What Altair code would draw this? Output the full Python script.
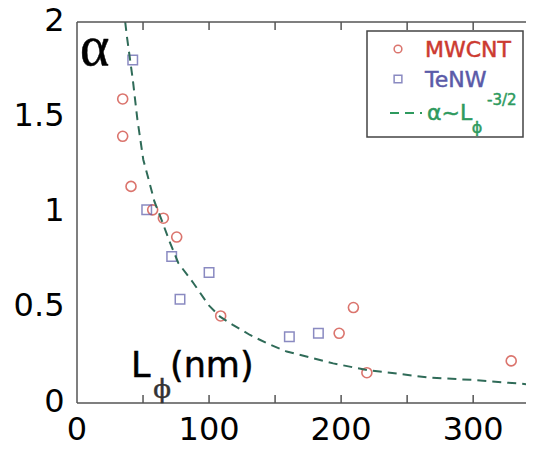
import altair as alt
import pandas as pd

# --- data ---
mw_x = [34.6, 34.6, 40.9, 57.3, 65.4, 75.5, 108.8, 198.5, 209.3, 219.5, 328.8]
mw_y = [1.596, 1.40, 1.137, 1.014, 0.97, 0.871, 0.457, 0.366, 0.501, 0.159, 0.221]

te_x = [42.2, 52.8, 71.7, 78.0, 100.0, 160.8, 182.8]
te_y = [1.80, 1.014, 0.769, 0.545, 0.685, 0.348, 0.366]

fit_x = [36.5, 37.6, 42.2, 45.7, 50.2, 54.0, 58.6, 64.1, 70.5, 76.7, 88.1, 99.5, 108.3,
         118.0, 131.0, 143.7, 158.8, 179.0, 194.0, 219.5, 237.0, 267.0, 300.0, 340.0]
fit_y = [2.0, 1.934, 1.70, 1.49, 1.277, 1.18, 1.058, 0.96, 0.84, 0.735, 0.63, 0.515, 0.453,
         0.41, 0.357, 0.314, 0.27, 0.235, 0.208, 0.173, 0.159, 0.133, 0.121, 0.099]

x_labels = [0, 100, 200, 300]
x_ticks = [50, 100, 150, 200, 250, 300]
y_labels = [0, 0.5, 1, 1.5, 2]

W, H = 449, 381
AXC = "#555555"
RED = "#cc3a30"
BLUE = "#5a5aa8"
GREEN = "#2e9a5e"
CURVE = "#2f6b58"
LABEL_FONT = "DejaVu Sans"

mw = pd.DataFrame({"L": mw_x, "a": mw_y})
te = pd.DataFrame({"L": te_x, "a": te_y})
fit = pd.DataFrame({"L": fit_x, "a": fit_y})
ticks = pd.DataFrame({"L": x_ticks})
xlab = pd.DataFrame({"L": x_labels, "t": [str(v) for v in x_labels]})
one = pd.DataFrame({"k": [0]})

xscale = alt.Scale(domain=[0, 340], nice=False, zero=False)
yscale = alt.Scale(domain=[0, 2], nice=False)

xenc = alt.X("L:Q", scale=xscale, axis=alt.Axis(
    orient="bottom", values=x_labels, ticks=False, grid=False, domain=False,
    labelFontSize=32, labelFont=LABEL_FONT, labelColor="black",
    labelPadding=14, labelFlush=False, title=None))
xnone = alt.X("L:Q", scale=xscale, axis=None)
yenc = alt.Y("a:Q", scale=yscale, axis=alt.Axis(
    orient="left", values=y_labels, format=".1~f", ticks=False, grid=False,
    domain=False, labelPadding=13, labelFontSize=32, labelFont=LABEL_FONT,
    labelColor="black", labelOffset=-2, title=None))

# frame lines (left, bottom, top) and inward ticks
frame_l = alt.Chart(one).mark_rule(stroke=AXC, strokeWidth=1.5).encode(
    x=alt.value(0), y=alt.value(0), y2=alt.value(H))
frame_b = alt.Chart(one).mark_rule(stroke=AXC, strokeWidth=1.5).encode(
    x=alt.value(0), x2=alt.value(W), y=alt.value(H))
frame_t = alt.Chart(one).mark_rule(stroke=AXC, strokeWidth=1.5).encode(
    x=alt.value(0), x2=alt.value(W), y=alt.value(0))
ticks_b = alt.Chart(ticks).mark_rule(stroke=AXC, strokeWidth=1.5).encode(
    x=xnone, y=alt.value(H), y2=alt.value(H - 8))
ticks_t = alt.Chart(ticks).mark_rule(stroke=AXC, strokeWidth=1.5).encode(
    x=xnone, y=alt.value(0), y2=alt.value(8))

circles = alt.Chart(mw).mark_point(shape="circle", filled=False, size=100,
                                   stroke=RED, strokeWidth=1.6, clip=True).encode(
    x=xenc, y=yenc)
squares = alt.Chart(te).mark_point(shape="square", filled=False, size=90,
                                   stroke=BLUE, strokeWidth=1.5, clip=True).encode(
    x=xenc, y=yenc)
curve = alt.Chart(fit).mark_line(stroke=CURVE, strokeWidth=2, strokeDash=[9, 6],
                                 clip=True).encode(x=xenc, y=yenc)

def txt(s, x, y, size, color="black", font=LABEL_FONT, align="left",
        baseline="middle"):
    return alt.Chart(one).mark_text(text=s, fontSize=size, color=color, font=font,
                                    align=align, baseline=baseline, stroke=color,
                                    strokeWidth=0.5).encode(
        x=alt.value(x), y=alt.value(y))

alpha_lbl = txt("α", 3, 43, 56, font="Liberation Serif", baseline="alphabetic")
L_lbl = txt("L", 54, 355, 35, baseline="alphabetic")
nm_lbl = txt("(nm)", 93, 355, 35, baseline="alphabetic")
phi_lbl = txt("ϕ", 85, 376, 26, color="#333333", font="DejaVu Serif",
              align="center", baseline="alphabetic")

leg_box = alt.Chart(one).mark_rect(fill="white", stroke="#444444",
                                   strokeWidth=1.5).encode(
    x=alt.value(290), x2=alt.value(446), y=alt.value(9), y2=alt.value(115))
leg_c = alt.Chart(one).mark_point(shape="circle", filled=False, size=60,
                                  stroke=RED, strokeWidth=1.5).encode(
    x=alt.value(321), y=alt.value(27))
leg_s = alt.Chart(one).mark_point(shape="square", filled=False, size=60,
                                  stroke=BLUE, strokeWidth=1.5).encode(
    x=alt.value(321), y=alt.value(57))
leg_l = alt.Chart(one).mark_rule(stroke=GREEN, strokeWidth=2,
                                 strokeDash=[9, 6]).encode(
    x=alt.value(313), x2=alt.value(345), y=alt.value(91))
leg_t1 = txt("MWCNT", 348, 28, 22, color=RED)
leg_t2 = txt("TeNW", 348, 58, 22, color=BLUE)
leg_t3 = txt("α~L", 350, 98, 22, color=GREEN, baseline="alphabetic")
leg_t4 = txt("-3/2", 410, 78, 15, color=GREEN)
leg_t5 = txt("ϕ", 400, 106, 16, color=GREEN, align="center")

xlabels = alt.Chart(xlab).mark_text(fontSize=32, font=LABEL_FONT, color="black",
                                    align="center", baseline="top").encode(
    x=xnone, y=alt.value(H + 12), text="t:N")

chart = alt.layer(
    circles, squares, curve, frame_l, frame_b, frame_t, ticks_b, ticks_t,
    alpha_lbl, L_lbl, nm_lbl, phi_lbl,
    leg_box, leg_c, leg_s, leg_l, leg_t1, leg_t2, leg_t3, leg_t4, leg_t5,
    xlabels,
).properties(
    width=W, height=H,
    autosize=alt.AutoSizeParams(type="none"),
    padding={"left": 69, "top": 14, "right": 0, "bottom": 48},
    background="white",
).configure_view(stroke=None)

chart.save("out.html", embed_options={"renderer": "svg", "actions": False})
